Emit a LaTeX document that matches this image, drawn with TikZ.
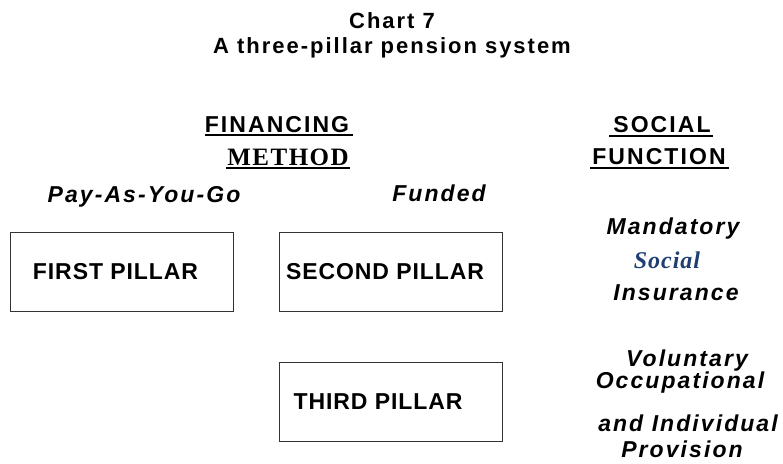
\documentclass[tikz,border=0pt]{standalone}
\usepackage{fontspec}
\setmainfont{Liberation Sans}
\newfontfamily\wsans[LetterSpace=9]{Liberation Sans}
\newfontfamily\bsans[LetterSpace=4]{Liberation Sans}
\newfontfamily\wserif[LetterSpace=6]{Liberation Serif}
\newfontfamily\sserif[LetterSpace=4]{Liberation Serif}
\definecolor{socblue}{HTML}{1F3F73}
\begin{document}
\begin{tikzpicture}[x=1pt,y=-1pt,
  lbl/.style={inner sep=0pt,font=\wsans\fontsize{23}{25}\selectfont\bfseries},
  ilbl/.style={inner sep=0pt,font=\wsans\fontsize{23}{25}\selectfont\bfseries\itshape},
  pillar/.style={draw=black!80,line width=0.8pt,minimum width=223pt,minimum height=79pt,inner sep=0pt,font=\bsans\fontsize{23}{25}\selectfont\bfseries},
  uline/.style={line width=1.6pt}]
\useasboundingbox (0,0) rectangle (783,463);
\node[inner sep=0pt,font=\wsans\fontsize{22}{24}\selectfont\bfseries] (t1) at (392,21) {Chart 7};
\node[inner sep=0pt,font=\wsans\fontsize{22}{24}\selectfont\bfseries] (t2) at (392,48) {A three-pillar pension system};
\node[lbl] (fin) at (277,125) {FINANCING};
\draw[uline] (205,135) -- (353,135);
\node[inner sep=0pt,font=\wserif\fontsize{25}{27}\selectfont\bfseries] (meth) at (288,157) {METHOD};
\draw[uline] (226,168) -- (350,168);
\node[lbl] (soc) at (662,125) {SOCIAL};
\draw[uline] (609,136) -- (713,136);
\node[lbl] (func) at (659,157) {FUNCTION};
\draw[uline] (590,168) -- (729,168);
\node[ilbl] (payg) at (144,197) {Pay-As-You-Go};
\node[ilbl] (fund) at (439,193) {Funded};
\node[pillar] (p1) at (121.5,271.5) {\hspace*{-12pt}FIRST PILLAR};
\node[pillar] (p2) at (390.5,271.5) {\hspace*{-11pt}SECOND PILLAR};
\node[pillar] (p3) at (390.5,402) {\hspace*{-25pt}THIRD PILLAR};
\node[ilbl] (mand) at (673,229) {Mandatory};
\node[inner sep=0pt,text=socblue,font=\sserif\fontsize{24}{26}\selectfont\bfseries\itshape] (social) at (667,260) {Social};
\node[ilbl] (ins) at (676,293) {Insurance};
\node[ilbl] (vol) at (687,361) {Voluntary};
\node[ilbl] (occ) at (680,383) {Occupational};
\node[ilbl] (indiv) at (688,423) {and Individual};
\node[ilbl] (prov) at (682,449) {Provision};
\end{tikzpicture}
\end{document}
